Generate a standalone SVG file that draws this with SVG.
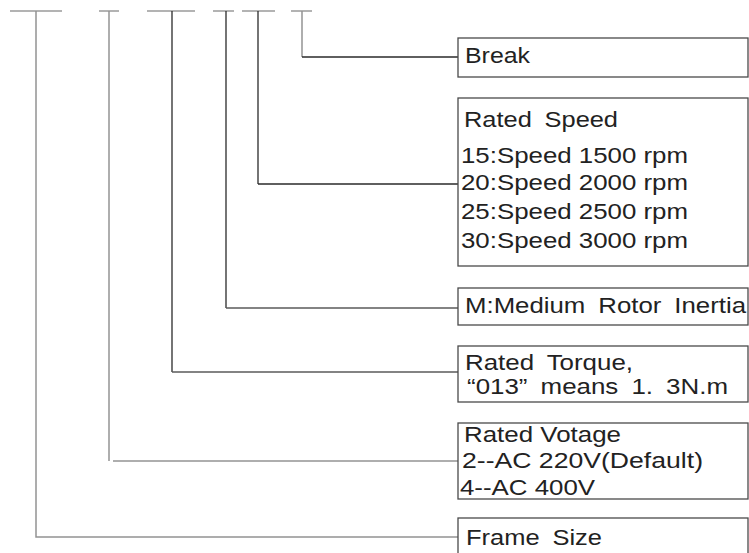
<svg xmlns="http://www.w3.org/2000/svg" width="749" height="553" viewBox="0 0 749 553">
<style>
.box{fill:#fff;stroke:#4a4a4a;stroke-width:1.3}
.t{font-family:"Liberation Sans",Arial,sans-serif;font-size:22px;fill:#222}
.w{word-spacing:5px}
.bar{stroke:#9a9a9a;stroke-width:1.5;fill:none}
.lg{stroke:#939393;stroke-width:1.5;fill:none}
.ld{stroke:#2a2a2a;stroke-width:1.3;fill:none}
.lm{stroke:#5a5a5a;stroke-width:1.3;fill:none}
</style>
<rect width="749" height="553" fill="#fff"/>
<g id="connectors">
<line class="bar" x1="10" y1="11" x2="62" y2="11"/>
<line class="bar" x1="99" y1="11" x2="119" y2="11"/>
<line class="bar" x1="147" y1="11" x2="195" y2="11"/>
<line class="bar" x1="213" y1="11" x2="234" y2="11"/>
<line class="bar" x1="242" y1="11" x2="275" y2="11"/>
<line class="bar" x1="291" y1="11" x2="312" y2="11"/>
<polyline class="lg" points="36,11 36,537 458,537"/>
<line class="lg" x1="109" y1="11" x2="109" y2="461"/>
<line class="lg" x1="113" y1="461" x2="458" y2="461"/>
<line class="ld" x1="172" y1="11" x2="172" y2="372"/>
<line class="lm" x1="172" y1="372" x2="458" y2="372"/>
<line class="ld" x1="226" y1="11" x2="226" y2="308"/>
<line class="lm" x1="226" y1="308" x2="458" y2="308"/>
<line class="ld" x1="258" y1="11" x2="258" y2="184"/>
<line class="ld" x1="258" y1="184" x2="458" y2="184"/>
<line class="lg" x1="302" y1="11" x2="302" y2="57"/>
<line class="ld" x1="302" y1="57" x2="458" y2="57"/>
</g>
<g id="break">
<rect class="box" x="458" y="38" width="290" height="39"/>
<text class="t" x="465" y="63" textLength="65" lengthAdjust="spacingAndGlyphs">Break</text>
</g>
<g id="rated-speed">
<rect class="box" x="458" y="98" width="290" height="168"/>
<text class="t w" x="464" y="127" textLength="154" lengthAdjust="spacingAndGlyphs">Rated Speed</text>
<text class="t" x="461" y="163" textLength="227" lengthAdjust="spacingAndGlyphs">15:Speed 1500 rpm</text>
<text class="t" x="461" y="190" textLength="227" lengthAdjust="spacingAndGlyphs">20:Speed 2000 rpm</text>
<text class="t" x="461" y="219" textLength="227" lengthAdjust="spacingAndGlyphs">25:Speed 2500 rpm</text>
<text class="t" x="461" y="248" textLength="227" lengthAdjust="spacingAndGlyphs">30:Speed 3000 rpm</text>
</g>
<g id="inertia">
<rect class="box" x="458" y="288" width="290" height="37"/>
<text class="t w" x="465" y="313" textLength="281" lengthAdjust="spacingAndGlyphs">M:Medium Rotor Inertia</text>
</g>
<g id="rated-torque">
<rect class="box" x="458" y="346" width="290" height="56"/>
<text class="t w" x="465" y="370" textLength="168" lengthAdjust="spacingAndGlyphs">Rated Torque,</text>
<text class="t w" x="467" y="394" textLength="261" lengthAdjust="spacingAndGlyphs">“013” means 1. 3N.m</text>
</g>
<g id="rated-voltage">
<rect class="box" x="458" y="423" width="290" height="76"/>
<text class="t" x="464" y="442" textLength="157" lengthAdjust="spacingAndGlyphs">Rated Votage</text>
<text class="t" x="462" y="468" textLength="241" lengthAdjust="spacingAndGlyphs">2--AC 220V(Default)</text>
<text class="t" x="460" y="495" textLength="135" lengthAdjust="spacingAndGlyphs">4--AC 400V</text>
</g>
<g id="frame-size">
<rect class="box" x="458" y="518" width="290" height="60"/>
<text class="t w" x="466" y="545" textLength="136" lengthAdjust="spacingAndGlyphs">Frame Size</text>
</g>
</svg>
